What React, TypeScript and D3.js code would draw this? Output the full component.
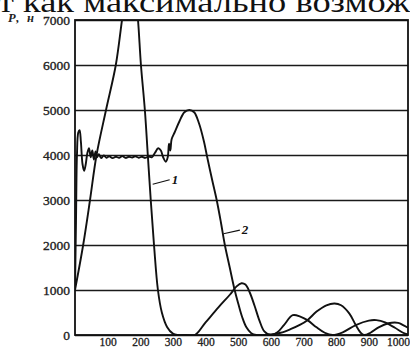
import React, { useEffect, useRef } from 'react';
import * as d3 from 'd3';

// Force P (N) vs. frequency
const X_TICKS = [100, 200, 300, 400, 500, 600, 700, 800, 900, 1000];
const Y_TICKS = [0, 1000, 2000, 3000, 4000, 5000, 6000, 7000];

// curve "1"
const CURVE_1: [number, number][] = [
  [0, 1000], [25, 2000], [46, 3000], [66, 4000], [95, 5000], [125, 6000], [144, 7000],
  [158, 7700], [172, 7900], [186, 7500], [193, 7000], [202, 6000], [214, 5000], [223, 4000],
  [232, 3000], [242, 2000], [254, 1000], [266, 500], [282, 180], [300, 30], [315, 0],
  [340, 0], [367, 0], [400, 280], [440, 620], [475, 900], [495, 1080], [510, 1150],
  [522, 1120], [535, 950], [550, 650], [565, 320], [580, 80], [600, 0], [620, 60],
  [640, 220], [667, 440], [690, 410], [712, 330], [740, 170], [765, 50], [789, 0],
  [820, 60], [860, 220], [900, 320], [923, 330], [950, 280], [980, 160], [1005, 50], [1020, 10],
];

// curve "2"
const CURVE_2: [number, number][] = [
  [0, 1000], [3, 2500], [6, 4000], [10, 4500], [14, 4550], [18, 4300], [23, 3800],
  [28, 3650], [33, 3800], [38, 4050], [43, 4150], [48, 3950], [53, 4100], [58, 3900],
  [63, 4080], [68, 3950], [73, 4020], [80, 3930], [88, 3990], [96, 3940], [105, 3970],
  [115, 3930], [125, 3960], [135, 3940], [145, 3975], [155, 3935], [165, 3960], [175, 3945],
  [185, 3970], [195, 3940], [205, 3960], [215, 3935], [225, 3965], [235, 3950], [245, 4050],
  [255, 4150], [263, 4100], [270, 3950], [278, 3850], [284, 3950], [288, 4250], [292, 4100],
  [296, 4350], [305, 4500], [320, 4750], [335, 4950], [350, 5000], [365, 4950], [380, 4700],
  [395, 4300], [405, 3950], [420, 3450], [434, 3000], [447, 2500], [459, 2000], [474, 1500],
  [489, 1000], [500, 700], [512, 400], [525, 170], [540, 40], [555, 0], [580, 0], [600, 10],
  [630, 50], [660, 130], [690, 230], [712, 330], [740, 520], [770, 660], [795, 700],
  [815, 660], [840, 480], [860, 220], [875, 50], [885, 0], [905, 50], [930, 170], [960, 260],
  [990, 270], [1005, 220], [1020, 160],
];

const HEADER = 'т как максимально возмож';
const SERIF = '"Liberation Serif", serif';

export default function App() {
  const ref = useRef<SVGSVGElement>(null);

  useEffect(() => {
    const svg = d3.select(ref.current);
    svg.selectAll('*').remove();

    const margin = { top: 20, left: 75, right: 2, bottom: 15 };
    const width = 410;
    const height = 350;
    const innerWidth = width - margin.left - margin.right;
    const innerHeight = height - margin.top - margin.bottom;

    const x = d3.scaleLinear().domain([0, 1020]).range([0, innerWidth]);
    const y = d3.scaleLinear().domain([0, 7000]).range([innerHeight, 0]);

    // cut-off line of text from the page above
    svg.append('text')
      .attr('x', -2)
      .attr('y', 12)
      .attr('textLength', 412)
      .attr('lengthAdjust', 'spacingAndGlyphs')
      .style('font-family', SERIF)
      .style('font-size', '30px')
      .attr('fill', '#111')
      .text(HEADER);

    const g = svg.append('g').attr('transform', `translate(${margin.left},${margin.top})`);

    g.append('clipPath').attr('id', 'plot-clip')
      .append('rect').attr('width', innerWidth).attr('height', innerHeight);

    // grid + y labels
    const yAxis = g.append('g')
      .call(d3.axisLeft(y).tickValues(Y_TICKS).tickSize(-innerWidth).tickPadding(5).tickFormat(d3.format('d')));
    yAxis.select('.domain').remove();
    yAxis.selectAll('.tick line').attr('stroke', '#1a1a1a').attr('stroke-width', 1.6);
    yAxis.selectAll('.tick text')
      .style('font-family', SERIF)
      .style('font-size', '13.5px')
      .attr('fill', '#222')
      .attr('stroke', '#222')
      .attr('stroke-width', 0.35);

    // x labels
    const xAxis = g.append('g')
      .attr('transform', `translate(0,${innerHeight})`)
      .call(d3.axisBottom(x).tickValues(X_TICKS).tickSize(0).tickPadding(3).tickFormat(d3.format('d')));
    xAxis.select('.domain').remove();
    xAxis.selectAll('.tick text')
      .style('font-family', SERIF)
      .style('font-size', '11.5px')
      .attr('fill', '#222')
      .attr('stroke', '#222')
      .attr('stroke-width', 0.3);
    // last label sits flush with the right frame
    xAxis.selectAll<SVGTextElement, number>('.tick text')
      .filter(d => d === 1000)
      .attr('text-anchor', 'end')
      .attr('dx', 8);

    // frame
    g.append('rect')
      .attr('width', innerWidth)
      .attr('height', innerHeight)
      .attr('fill', 'none')
      .attr('stroke', '#111')
      .attr('stroke-width', 1.8);

    // unit label
    svg.append('text')
      .attr('x', 8)
      .attr('y', 22)
      .attr('textLength', 26)
      .attr('lengthAdjust', 'spacing')
      .style('font-family', SERIF)
      .style('font-size', '12.5px')
      .style('font-style', 'italic')
      .style('font-weight', 'bold')
      .attr('fill', '#222')
      .text('P, н');

    const line = d3.line<[number, number]>()
      .x(d => x(d[0]))
      .y(d => y(d[1]))
      .curve(d3.curveCatmullRom.alpha(0.5));

    const curves = g.append('g').attr('clip-path', 'url(#plot-clip)');
    [CURVE_1, CURVE_2].forEach(data => {
      curves.append('path')
        .attr('d', line(data))
        .attr('fill', 'none')
        .attr('stroke', '#111')
        .attr('stroke-width', 1.9);
    });

    // curve labels with leader lines
    const labels = [
      { name: '1', at: [238, 3350], to: [290, 3450] },
      { name: '2', at: [455, 2250], to: [505, 2330] },
    ];
    labels.forEach(l => {
      g.append('line')
        .attr('x1', x(l.at[0])).attr('y1', y(l.at[1]))
        .attr('x2', x(l.to[0])).attr('y2', y(l.to[1]))
        .attr('stroke', '#111').attr('stroke-width', 1.2);
      g.append('text')
        .attr('x', x(l.to[0]) + 2)
        .attr('y', y(l.to[1]) + 4)
        .style('font-family', SERIF)
        .style('font-size', '13px')
        .style('font-style', 'italic')
        .style('font-weight', 'bold')
        .attr('fill', '#111')
        .text(l.name);
    });
  }, []);

  return (
    <svg ref={ref} width={410} height={350}
      style={{ position: 'fixed', top: 0, left: 0, background: '#fff' }} />
  );
}
